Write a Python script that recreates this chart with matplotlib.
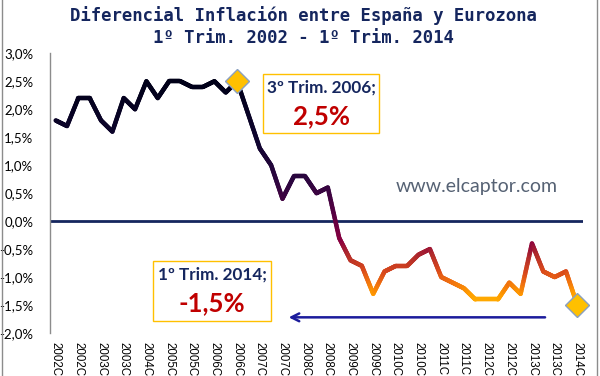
#!/usr/bin/env python3
"""Diferencial de inflación España - Eurozona, 1T2002 - 1T2014."""

import numpy as np
import matplotlib.pyplot as plt
from matplotlib.collections import LineCollection
from matplotlib.colors import LinearSegmentedColormap
from matplotlib.patches import Rectangle
from matplotlib.lines import Line2D

# category labels (every other quarter is shown on the axis)
tick_labels = [
    "2002C", "2002C", "2003C", "2003C", "2004C", "2005C", "2005C",
    "2006C", "2006C", "2007C", "2007C", "2008C", "2008C", "2009C",
    "2009C", "2010C", "2010C", "2011C", "2011C", "2012C", "2012C",
    "2013C", "2013C", "2014C",
]

# differential, percentage points
diff = [
    1.8, 1.7, 2.2, 2.2, 1.8, 1.6, 2.2, 2.0, 2.5, 2.2,
    2.5, 2.5, 2.4, 2.4, 2.5, 2.3, 2.5, 1.9, 1.3, 1.0,
    0.4, 0.8, 0.8, 0.5, 0.6, -0.3, -0.7, -0.8, -1.3, -0.9,
    -0.8, -0.8, -0.6, -0.5, -1.0, -1.1, -1.2, -1.4, -1.4, -1.4,
    -1.1, -1.3, -0.4, -0.9, -1.0, -0.9, -1.5,
]

highlight = [16, 46]
yticks = [-2.0, -1.5, -1.0, -0.5, 0.0, 0.5, 1.0, 1.5, 2.0, 2.5, 3.0]

NAVY = "#15265e"
RED = "#c00000"
GOLD = "#ffc000"

W, H = 600, 376


def fx(px):
    return px / W


def fy(py):
    return 1 - py / H


def main():
    fig = plt.figure(figsize=(W / 100, H / 100), dpi=100)
    ax = fig.add_axes([fx(50), fy(333), (583 - 50) / W, (333 - 53.3) / H])

    x = np.arange(len(diff))
    y = np.array(diff, dtype=float)

    # gradient line coloured by value
    cmap = LinearSegmentedColormap.from_list(
        "grad",
        [
            (0.00, "#ffb400"),
            (0.05, "#ff9a00"),
            (0.10, "#f07010"),
            (0.15, "#d8481c"),
            (0.22, "#b02a2c"),
            (0.28, "#8a0040"),
            (0.40, "#560042"),
            (0.55, "#2e0640"),
            (0.72, "#100530"),
            (1.00, "#000018"),
        ],
    )
    segs, vals = [], []
    for i in range(len(x) - 1):
        t = np.linspace(0, 1, 21)
        xs = x[i] + (x[i + 1] - x[i]) * t
        ys = y[i] + (y[i + 1] - y[i]) * t
        for k in range(len(t) - 1):
            segs.append([(xs[k], ys[k]), (xs[k + 1], ys[k + 1])])
            vals.append((ys[k] + ys[k + 1]) / 2)
    lc = LineCollection(segs, cmap=cmap, norm=plt.Normalize(-1.5, 2.5),
                        linewidths=3.2, capstyle="round", joinstyle="round", zorder=3)
    lc.set_array(np.array(vals))
    ax.add_collection(lc)

    ax.axhline(0, color=NAVY, lw=2, zorder=2)

    ax.plot(x[highlight], y[highlight], linestyle="none", marker="D", markersize=12,
            markerfacecolor=GOLD, markeredgecolor="#8aa0c0", markeredgewidth=1, zorder=5,
            clip_on=False)

    ax.set_xlim(-0.5, len(diff) - 0.5)
    ax.set_ylim(-2.0, 3.0)

    ax.set_yticks(yticks)
    ax.set_yticklabels([f"{v:.1f}%".replace(".", ",") for v in yticks],
                       fontfamily="Lato", fontsize=9.5)
    ax.set_xticks(np.arange(0, len(diff), 2))
    ax.set_xticklabels(tick_labels, rotation=270, ha="center", va="top",
                       fontfamily="Liberation Sans", fontsize=8.3)
    ax.tick_params(axis="y", length=0, pad=12)
    ax.tick_params(axis="x", length=0, pad=6.5)

    for side in ("top", "right", "bottom"):
        ax.spines[side].set_visible(False)
    ax.spines["left"].set_color("#8c8c8c")
    ax.spines["left"].set_linewidth(1)

    # title
    fig.text(0.505, fy(16), "Diferencial Inflación entre España y Eurozona",
             ha="center", va="center", fontfamily="DejaVu Sans Mono",
             fontweight="bold", fontsize=12.4, color=NAVY)
    fig.text(0.505, fy(38), "1º Trim. 2002 - 1º Trim. 2014",
             ha="center", va="center", fontfamily="DejaVu Sans Mono",
             fontweight="bold", fontsize=12.4, color=NAVY)

    # callout boxes
    for (x0, y0, x1, y1), head, val in [
        ((263, 74, 379, 133), "3º Trim. 2006;", "2,5%"),
        ((153, 261, 271, 321), "1º Trim. 2014;", "-1,5%"),
    ]:
        fig.add_artist(Rectangle((fx(x0), fy(y1)), (x1 - x0) / W, (y1 - y0) / H,
                                 transform=fig.transFigure, facecolor="white",
                                 edgecolor=GOLD, lw=1, zorder=6))
        cx = fx((x0 + x1) / 2)
        fig.text(cx, fy(y0 + 14), head, ha="center", va="center", fontfamily="Lato",
                 fontweight="bold", fontsize=12.3, color=NAVY, zorder=7)
        fig.text(cx, fy(y0 + 42), val, ha="center", va="center", fontfamily="Lato",
                 fontweight="bold", fontsize=18.5, color=RED, zorder=7)

    # arrow pointing back to the start of the period
    ax.annotate("", xy=(20.3, -1.72), xytext=(43.4, -1.72),
                arrowprops=dict(arrowstyle="->", color="#1c1c9c", lw=1.8,
                                mutation_scale=14), zorder=4)

    fig.text(fx(477), fy(186), "www.elcaptor.com", ha="center", va="center",
             fontfamily="Lato", fontsize=14, color="#566274")

    # outer frame edges
    for px in (2, 597):
        fig.add_artist(Line2D([fx(px), fx(px)], [0, 1], transform=fig.transFigure,
                              color="#8c8c8c", lw=1))

    fig.savefig("out.png", dpi=100)


if __name__ == "__main__":
    main()
